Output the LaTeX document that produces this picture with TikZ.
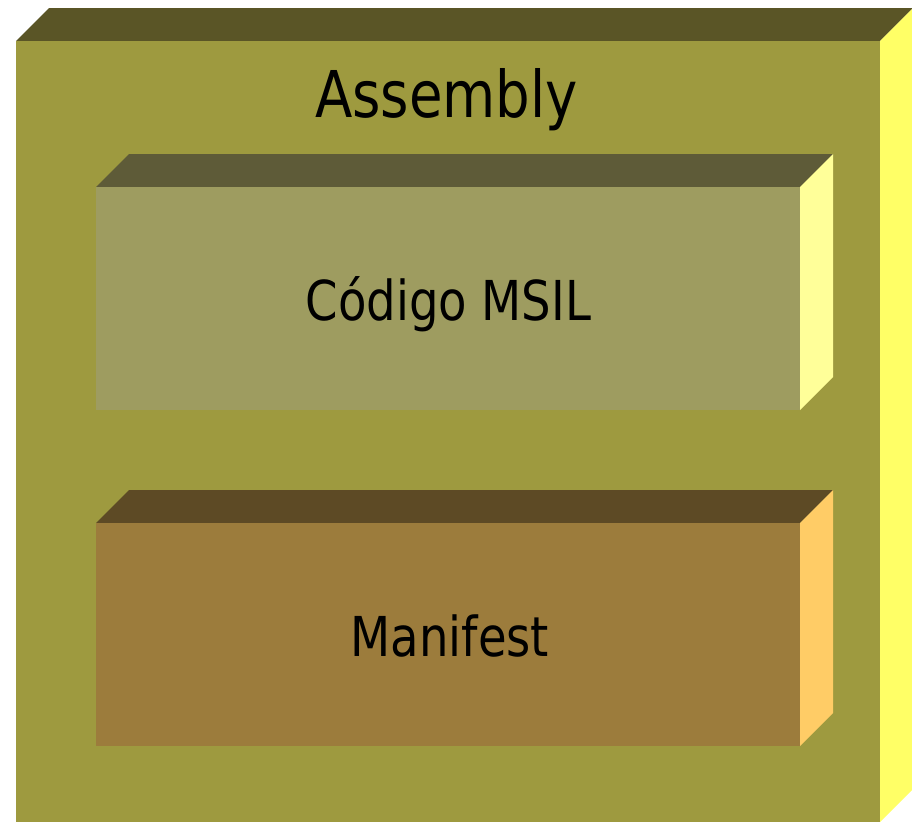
\documentclass[tikz,border=0pt]{standalone}
\usepackage{fontspec}
\newfontfamily\labelfont[FakeStretch=0.94]{DejaVu Sans Condensed}
\definecolor{asmFront}{HTML}{9E9A3F}
\definecolor{asmTop}{HTML}{5A5526}
\definecolor{asmSide}{HTML}{FFFF66}
\definecolor{codeFront}{HTML}{9E9C60}
\definecolor{codeTop}{HTML}{5E5B38}
\definecolor{codeSide}{HTML}{FFFF99}
\definecolor{manFront}{HTML}{9C7C3C}
\definecolor{manTop}{HTML}{5D4A25}
\definecolor{manSide}{HTML}{FFCC66}
% \prismbox{x1}{y1}{x2}{y2}{depth}{front}{top}{side}
\newcommand\prismbox[8]{%
  \fill[#7] (#1,#2) -- (#1+#5,#2-#5) -- (#3+#5,#2-#5) -- (#3,#2) -- cycle;
  \fill[#8] (#3,#2) -- (#3+#5,#2-#5) -- (#3+#5,#4-#5) -- (#3,#4) -- cycle;
  \fill[#6] (#1,#2) rectangle (#3,#4);
}
\tikzset{
  boxlabel/.style={anchor=base, inner sep=0pt, text=black},
}
\begin{document}
\begin{tikzpicture}[x=1pt,y=-1pt]
  \useasboundingbox (0,0) rectangle (912,822);
  % outer assembly block
  \prismbox{16}{41}{880}{822}{33}{asmFront}{asmTop}{asmSide}
  % inner blocks
  \prismbox{96}{187}{800}{410}{33}{codeFront}{codeTop}{codeSide}
  \prismbox{96}{523}{800}{746}{33}{manFront}{manTop}{manSide}
  % labels
  \node[boxlabel, font=\labelfont\fontsize{64.5}{70}\selectfont] (asm) at (446.5,117) {Assembly};
  \node[boxlabel, font=\labelfont\fontsize{55}{60}\selectfont] (code) at (448.5,320) {Código MSIL};
  \node[boxlabel, font=\labelfont\fontsize{55}{60}\selectfont] (man) at (450,656) {Manifest};
\end{tikzpicture}
\end{document}
